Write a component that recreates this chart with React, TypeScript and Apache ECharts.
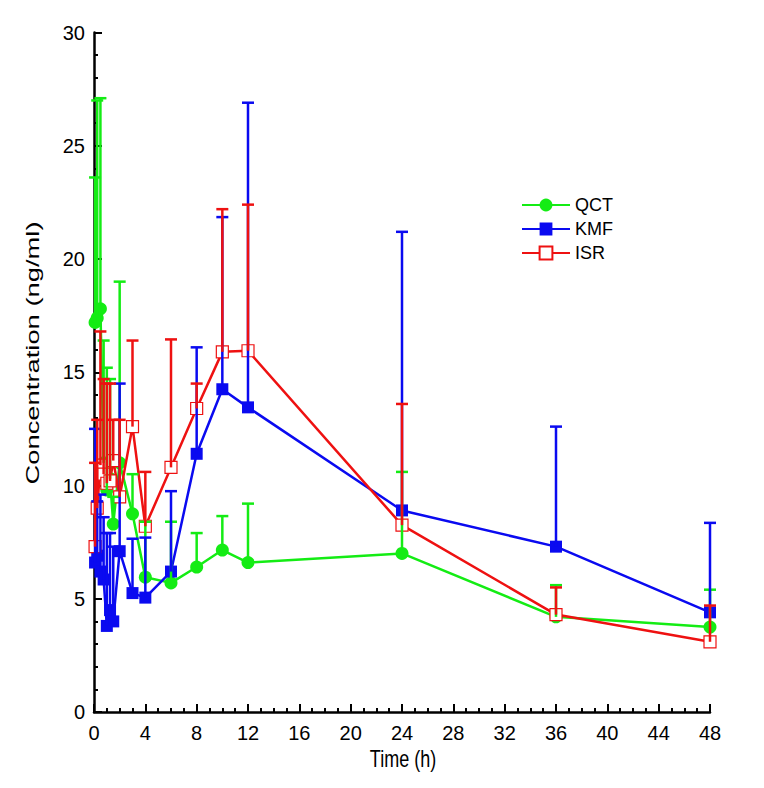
import React, { useEffect, useRef } from "react";
import * as echarts from "echarts";

const times = [0.083, 0.25, 0.5, 0.75, 1, 1.25, 1.5, 2, 3, 4, 6, 8, 10, 12, 24, 36, 48];

const qctMean = [17.2, 17.4, 17.8, 11.0, 9.8, 10.3, 8.3, 11.0, 8.75, 5.95, 5.7, 6.4, 7.15, 6.6, 7.0, 4.2, 3.75];
const qctUpper = [23.6, 27.0, 27.1, 16.4, 15.2, 14.7, 9.5, 19.0, 10.5, 8.4, 8.4, 7.9, 8.65, 9.2, 10.6, 5.6, 5.4];

const kmfMean = [6.6, 6.9, 6.2, 5.85, 3.8, 4.5, 4.0, 7.1, 5.25, 5.05, 6.2, 11.4, 14.25, 13.45, 8.9, 7.3, 4.4];
const kmfUpper = [12.5, 9.3, 9.6, 8.6, 7.9, 7.9, 7.3, 14.5, 7.65, 7.7, 9.75, 16.1, 21.85, 26.9, 21.2, 12.6, 8.35];

const isrMean = [7.3, 9.0, 10.9, 10.5, 10.1, 10.2, 11.1, 9.5, 12.6, 8.2, 10.8, 13.4, 15.9, 15.95, 8.25, 4.3, 3.1];
const isrUpper = [11.0, 12.9, 16.8, 14.7, 14.5, 14.5, 12.9, 12.9, 16.4, 10.6, 16.45, 14.5, 22.2, 22.4, 13.6, 5.5, 4.7];

const seriesNames = ["QCT", "KMF", "ISR"];
const xTickLabels = [0, 4, 8, 12, 16, 20, 24, 28, 32, 36, 40, 44, 48];
const yTickLabels = [0, 5, 10, 15, 20, 25, 30];
const xTitle = "Time (h)";
const yTitle = "Concentration (ng/ml)";

const GREEN = "#14ec14";
const BLUE = "#0a0af0";
const RED = "#ee1111";
const FONT = "'Liberation Sans', Arial, sans-serif";

function pairs(mean: number[]) {
  return times.map((t, i) => [t, mean[i]]);
}
function errData(mean: number[], upper: number[]) {
  return times.map((t, i) => [t, mean[i], upper[i]]);
}

function errorSeries(name: string, mean: number[], upper: number[], color: string, z: number) {
  return {
    type: "custom",
    name: name + "-err",
    z,
    silent: true,
    encode: { x: 0, y: [1, 2] },
    data: errData(mean, upper),
    renderItem: (params: any, api: any) => {
      const x = api.value(0);
      const lo = api.coord([x, api.value(1)]);
      const hi = api.coord([x, api.value(2)]);
      return {
        type: "group",
        children: [
          {
            type: "line",
            shape: { x1: lo[0], y1: lo[1], x2: hi[0], y2: hi[1] },
            style: { stroke: color, lineWidth: 2.5 },
          },
          {
            type: "line",
            shape: { x1: hi[0] - 6, y1: hi[1], x2: hi[0] + 6, y2: hi[1] },
            style: { stroke: color, lineWidth: 2.5 },
          },
        ],
      };
    },
  };
}

export default function App() {
  const ref = useRef<HTMLDivElement>(null);
  useEffect(() => {
    if (!ref.current) return;
    const chart = echarts.init(ref.current, null, { renderer: "svg" });
    chart.setOption({
      animation: false,
      backgroundColor: "#ffffff",
      textStyle: { fontFamily: FONT },
      grid: { left: 94, top: 32.5, right: 54, bottom: 76 },
      legend: {
        data: seriesNames,
        orient: "vertical",
        left: 516,
        top: 191,
        itemWidth: 48,
        itemHeight: 16,
        itemGap: 6,
        textStyle: { fontSize: 18, color: "#000", fontFamily: FONT },
      },
      graphic: [
        {
          type: "text",
          x: 33,
          y: 353,
          rotation: Math.PI / 2,
          scaleX: 1.44,
          style: {
            text: yTitle,
            fontSize: 19,
            fontFamily: FONT,
            fill: "#000",
            align: "center",
            verticalAlign: "middle",
          },
        },
        {
          type: "text",
          x: 403,
          y: 759,
          scaleY: 1.35,
          style: {
            text: xTitle,
            fontSize: 18,
            fontFamily: FONT,
            fill: "#000",
            align: "center",
            verticalAlign: "middle",
          },
        },
      ],
      xAxis: {
        type: "value",
        min: 0,
        max: 48,
        interval: 4,
        axisLine: { onZero: false, lineStyle: { color: "#000", width: 2.5 } },
        axisTick: { inside: true, length: 8, lineStyle: { color: "#000", width: 2 } },
        minorTick: { show: true, splitNumber: 4, length: 4, lineStyle: { color: "#000", width: 2 } },
        axisLabel: {
          fontSize: 20,
          color: "#000",
          margin: 11,
          fontFamily: FONT,
          formatter: (v: number) => (xTickLabels.includes(v) ? String(v) : ""),
        },
        splitLine: { show: false },
      },
      yAxis: {
        type: "value",
        min: 0,
        max: 30,
        interval: 5,
        axisLine: { onZero: false, lineStyle: { color: "#000", width: 2.5 } },
        axisTick: { inside: true, length: 8, lineStyle: { color: "#000", width: 2 } },
        minorTick: { show: true, splitNumber: 5, length: 4, lineStyle: { color: "#000", width: 2 } },
        axisLabel: {
          fontSize: 20,
          color: "#000",
          margin: 9,
          fontFamily: FONT,
          formatter: (v: number) => (yTickLabels.includes(v) ? String(v) : ""),
        },
        splitLine: { show: false },
      },
      series: [
        {
          type: "line",
          name: "QCT",
          z: 2,
          data: pairs(qctMean),
          symbol: "circle",
          symbolSize: 13,
          lineStyle: { color: GREEN, width: 2.5 },
          itemStyle: { color: GREEN },
        },
        {
          type: "line",
          name: "KMF",
          z: 3,
          data: pairs(kmfMean),
          symbol: "rect",
          symbolSize: 12,
          lineStyle: { color: BLUE, width: 2.5 },
          itemStyle: { color: BLUE },
        },
        {
          type: "line",
          name: "ISR",
          z: 4,
          data: pairs(isrMean),
          symbol: "rect",
          symbolSize: 12,
          lineStyle: { color: RED, width: 2.5 },
          itemStyle: { color: "#ffffff", borderColor: RED, borderWidth: 1.2 },
        },
        errorSeries("QCT", qctMean, qctUpper, GREEN, 5),
        errorSeries("KMF", kmfMean, kmfUpper, BLUE, 6),
        errorSeries("ISR", isrMean, isrUpper, RED, 7),
      ],
    });
    return () => chart.dispose();
  }, []);
  return (
    <div
      ref={ref}
      style={{ position: "fixed", left: 0, top: 0, width: 764, height: 788, background: "#fff" }}
    />
  );
}
